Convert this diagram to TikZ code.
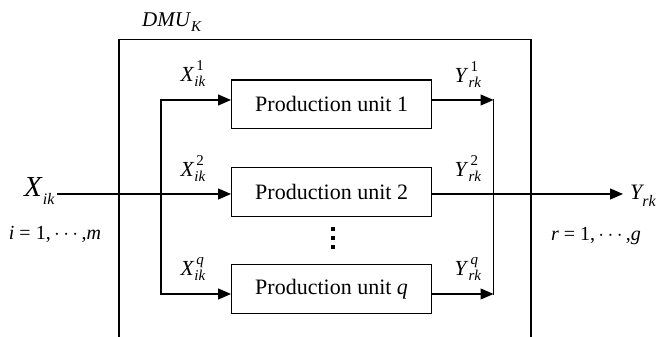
\documentclass[tikz,border=0pt]{standalone}
\usepackage{fontspec}
\setmainfont{Liberation Serif}
\usetikzlibrary{arrows.meta}

% font size helper
\newcommand{\fs}[1]{\fontsize{#1}{#1}\selectfont}
% variable with stacked superscript and subscript
\newcommand{\varlab}[3]{\textit{#1}\makebox[0pt][l]{\hspace{2pt}\raisebox{11pt}{\fs{15}#2}}\raisebox{-5pt}{\fs{15}\textit{#3}}}

\begin{document}
\begin{tikzpicture}[x=1pt,y=1pt,
  unit/.style={draw,line width=1.2pt,minimum width=200pt,minimum height=48.5pt,inner sep=0pt,font=\fs{22}},
  flow/.style={line width=1.3pt,line cap=rect},
  arr/.style={line width=1.3pt,-{Triangle[length=13pt,width=11pt]}},
  lab/.style={font=\fs{21.5},inner sep=0pt},
  eq/.style={font=\fs{20},inner sep=0pt},
  frame/.style={line width=1.7pt}]
\useasboundingbox (0,0) rectangle (657,337);

% decision making unit frame (open at the bottom)
\coordinate (fl) at (119,-2);
\coordinate (fr) at (531,-2);
\draw[frame] (fl) |- (531,297.5) -- (fr);
\node[font=\fs{21},inner sep=0pt] (dmu) at (172,315) {\textit{DMU}\raisebox{-5pt}{\fs{15}\textit{K}}};

% production units
\node[unit] (u1) at (331.6,232.8) {Production unit 1};
\node[unit] (u2) at (331.6,145) {Production unit 2};
\node[unit] (uq) at (331.6,48) {Production unit \textit{q}};

% distribution and collection rails
\coordinate (r1) at (161,237);
\coordinate (rq) at (161,43);
\coordinate (s1) at (493.5,237);
\coordinate (sq) at (493.5,43);
\coordinate (in) at (57,143);
\coordinate (out) at (623,143);

\draw[flow] (r1) -- (rq);
\draw[flow] (s1) -- (sq);
\draw[arr] (r1) -- (u1.west |- r1);
\draw[arr] (in) -- (u2.west |- in);
\draw[arr] (rq) -- (uq.west |- rq);
\draw[arr] (u1.east |- s1) -- (s1);
\draw[arr] (uq.east |- sq) -- (sq);
\draw[arr] (u2.east |- out) -- (out);

% input labels
\node[lab] (x1) at (193,263) {\varlab{X}{1}{ik}};
\node[lab] (x2) at (193,168) {\varlab{X}{2}{ik}};
\node[lab] (xq) at (193,68) {\varlab{X}{\textit{q}}{ik}};
% output labels
\node[lab] (y1) at (468,262) {\varlab{Y}{1}{rk}};
\node[lab] (y2) at (468,168) {\varlab{Y}{2}{rk}};
\node[lab] (yq) at (468,68) {\varlab{Y}{\textit{q}}{rk}};

% overall input and output
\node[inner sep=0pt,anchor=base west,font=\fs{29}] (xin) at (24,140) {\textit{X}\raisebox{-8pt}{\fs{16}\textit{ik}}};
\node[eq] (ri) at (55,102.5) {\textit{i} = 1,\,$\cdots$\,,\textit{m}};
\node[inner sep=0pt,anchor=base west,font=\fs{22}] (yout) at (630,137) {\textit{Y}\raisebox{-7pt}{\fs{16}\hspace{-2pt}\textit{rk}}};
\node[eq] (rr) at (596,101) {\textit{r} = 1,\,$\cdots$\,,\textit{g}};

% vertical ellipsis between units
\foreach \yy in {108,99,90}
  \fill (331.4,\yy-1.6) rectangle ++(3.2,3.2);
\end{tikzpicture}
\end{document}
